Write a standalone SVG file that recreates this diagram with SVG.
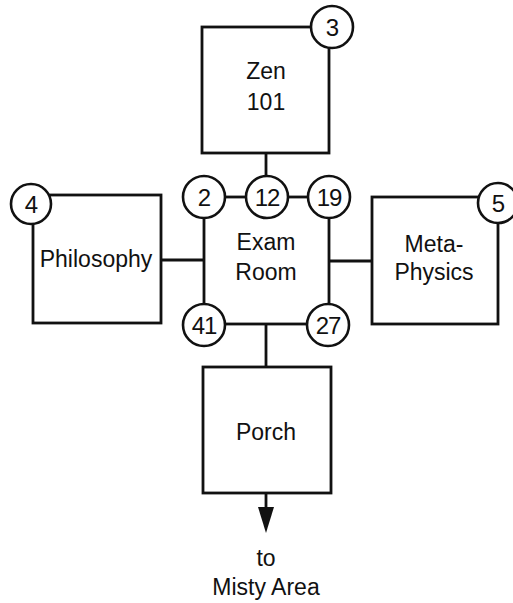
<svg xmlns="http://www.w3.org/2000/svg" width="513" height="603" viewBox="0 0 513 603">
<style>
.box{fill:#fff;stroke:#111;stroke-width:2.8}
.ln{stroke:#111;stroke-width:2.8;fill:none}
.c{fill:#fff;stroke:#111;stroke-width:2.6}
.t{font-family:"Liberation Sans",Arial,sans-serif;font-size:23px;fill:#111;text-anchor:middle}
.n{font-family:"Liberation Sans",Arial,sans-serif;font-size:24px;letter-spacing:-1px;fill:#111;text-anchor:middle}
</style>
<rect width="513" height="603" fill="#fff"/>
<g id="connectors">
<line class="ln" x1="266" y1="153" x2="266" y2="180"/>
<line class="ln" x1="161" y1="260" x2="203" y2="260"/>
<line class="ln" x1="329" y1="261" x2="372" y2="261"/>
<line class="ln" x1="266" y1="325" x2="266" y2="367"/>
<path class="ln" d="M266,493 L266,507"/>
<path d="M258,507 L274,507 L266,533 Z" fill="#111"/>
</g>
<g id="zen">
<rect class="box" x="202" y="27" width="127" height="126"/>
<circle class="c" cx="332" cy="27" r="21"/>
<text class="n" x="332" y="36">3</text>
<text class="t" x="266" y="79">Zen</text>
<text class="t" x="266" y="110">101</text>
</g>
<g id="philosophy">
<rect class="box" x="33" y="195" width="128" height="128"/>
<circle class="c" cx="31" cy="204" r="20"/>
<text class="n" x="31" y="213">4</text>
<text class="t" x="96" y="267">Philosophy</text>
</g>
<g id="meta">
<rect class="box" x="372" y="197" width="126" height="127"/>
<circle class="c" cx="498" cy="203" r="20"/>
<text class="n" x="498" y="212">5</text>
<text class="t" x="434" y="252">Meta-</text>
<text class="t" x="434" y="280">Physics</text>
</g>
<g id="exam">
<rect class="ln" x="204" y="197" width="125" height="127"/>
<circle class="c" cx="204" cy="197" r="21"/>
<text class="n" x="204" y="206">2</text>
<circle class="c" cx="267" cy="197" r="21"/>
<text class="n" x="267" y="206">12</text>
<circle class="c" cx="329" cy="197" r="21"/>
<text class="n" x="329" y="206">19</text>
<circle class="c" cx="204" cy="325" r="21"/>
<text class="n" x="204" y="334">41</text>
<circle class="c" cx="328" cy="325" r="21"/>
<text class="n" x="328" y="334">27</text>
<text class="t" x="266" y="250">Exam</text>
<text class="t" x="266" y="280">Room</text>
</g>
<g id="porch">
<rect class="box" x="203" y="367" width="128" height="126"/>
<text class="t" x="266" y="440">Porch</text>
</g>
<g id="misty">
<text class="t" x="266" y="566">to</text>
<text class="t" x="266" y="595">Misty Area</text>
</g>
</svg>
